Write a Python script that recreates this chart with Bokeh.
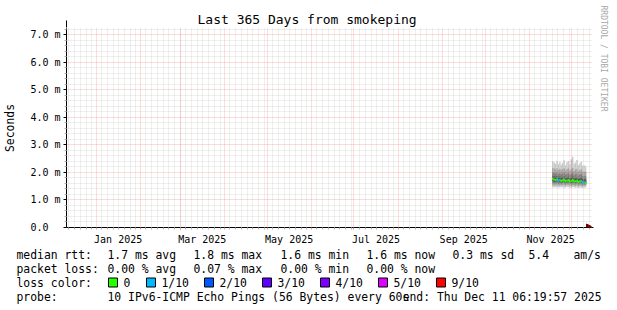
import pandas as pd
from bokeh.plotting import figure
from bokeh.layouts import column
from bokeh.models import FixedTicker, Arrow, NormalHead, ColumnDataSource, Range1d, Title
from bokeh.core.properties import value
from bokeh.embed import file_html
from bokeh.resources import INLINE

# ---------------- data ----------------
title_text = "Last 365 Days from smokeping"
end_time = "2025-12-11 06:19:57"
span_days = 365
first_day = "2025-11-17"

median_ms = [1.76, 1.74, 1.72, 1.75, 1.70, 1.73, 1.69, 1.71, 1.74, 1.68, 1.70, 1.72,
             1.67, 1.69, 1.73, 1.66, 1.68, 1.70, 1.65, 1.67, 1.69, 1.63, 1.64, 1.62]
loss_of_10 = [0, 0, 0, 0, 1, 1, 0, 0, 0, 0, 0, 0,
              0, 0, 0, 0, 0, 0, 0, 0, 0, 1, 1, 0]
ping1 = [1.46, 1.45, 1.47, 1.44, 1.46, 1.45, 1.47, 1.46, 1.44, 1.45, 1.47, 1.46,
         1.45, 1.44, 1.46, 1.45, 1.44, 1.46, 1.43, 1.45, 1.44, 1.43, 1.44, 1.45]
ping2 = [1.53, 1.52, 1.54, 1.52, 1.53, 1.51, 1.54, 1.53, 1.52, 1.52, 1.53, 1.54,
         1.52, 1.51, 1.53, 1.52, 1.51, 1.53, 1.50, 1.52, 1.51, 1.50, 1.51, 1.52]
ping3 = [1.60, 1.59, 1.60, 1.59, 1.58, 1.59, 1.58, 1.60, 1.59, 1.57, 1.59, 1.60,
         1.57, 1.58, 1.60, 1.57, 1.57, 1.59, 1.56, 1.57, 1.58, 1.55, 1.56, 1.56]
ping4 = [1.68, 1.66, 1.66, 1.67, 1.64, 1.66, 1.63, 1.65, 1.67, 1.62, 1.64, 1.66,
         1.62, 1.63, 1.66, 1.61, 1.62, 1.64, 1.60, 1.62, 1.63, 1.59, 1.60, 1.59]
ping5 = [1.74, 1.72, 1.70, 1.73, 1.68, 1.71, 1.67, 1.69, 1.72, 1.66, 1.68, 1.70,
         1.65, 1.67, 1.71, 1.64, 1.66, 1.68, 1.63, 1.65, 1.67, 1.62, 1.63, 1.61]
ping6 = [1.79, 1.77, 1.75, 1.78, 1.73, 1.76, 1.72, 1.74, 1.77, 1.71, 1.73, 1.75,
         1.70, 1.72, 1.76, 1.69, 1.71, 1.73, 1.68, 1.70, 1.72, 1.66, 1.67, 1.65]
ping7 = [1.88, 1.86, 1.84, 1.87, 1.82, 1.85, 1.81, 1.83, 1.86, 1.80, 1.82, 1.84,
         1.79, 1.81, 1.85, 1.78, 1.80, 1.82, 1.77, 1.79, 1.81, 1.75, 1.76, 1.74]
ping8 = [2.00, 1.98, 1.95, 1.99, 1.94, 1.97, 1.93, 1.96, 1.99, 1.92, 1.95, 1.97,
         1.91, 1.94, 1.98, 1.90, 1.93, 1.96, 1.89, 1.92, 1.94, 1.87, 1.88, 1.86]
ping9 = [2.16, 2.14, 2.10, 2.15, 2.09, 2.13, 2.08, 2.12, 2.15, 2.07, 2.12, 2.14,
         2.06, 2.11, 2.16, 2.05, 2.10, 2.13, 2.04, 2.08, 2.11, 2.02, 2.03, 2.01]
ping10 = [2.40, 2.36, 2.32, 2.42, 2.30, 2.38, 2.28, 2.35, 2.44, 2.26, 2.37, 2.41,
          2.29, 2.48, 2.58, 2.31, 2.36, 2.45, 2.27, 2.33, 2.39, 2.24, 2.26, 2.22]

ytick_values = [0, 1, 2, 3, 4, 5, 6, 7]
ytick_labels = ["0.0\u00a0\u00a0", "1.0 m", "2.0 m", "3.0 m", "4.0 m", "5.0 m", "6.0 m", "7.0 m"]
xtick_months = ["2025-01", "2025-03", "2025-05", "2025-07", "2025-09", "2025-11"]
xtick_labels = ["Jan 2025", "Mar 2025", "May 2025", "Jul 2025", "Sep 2025", "Nov 2025"]

loss_thresholds = [0, 1, 2, 3, 4, 5, 9]
loss_labels = ["0", "1/10", "2/10", "3/10", "4/10", "5/10", "9/10"]
loss_colors = ["#26ff00", "#00b8ff", "#0059ff", "#5e00ff", "#7e00ff", "#dd00ff", "#ff0000"]

rtt_head = "median rtt:"
rtt_stats = ["1.7 ms avg", "1.8 ms max", "1.6 ms min", "1.6 ms now", "0.3 ms sd", "5.4", "am/s"]
loss_head = "packet loss:"
loss_stats = ["0.00 % avg", "0.07 % max", "0.00 % min", "0.00 % now"]
color_head = "loss color:"
probe_head = "probe:"
probe_text = "10 IPv6-ICMP Echo Pings (56 Bytes) every 60s"
end_text = "end: Thu Dec 11 06:19:57 2025"
watermark = "RRDTOOL / TOBI OETIKER"

# ---------------- layout constants ----------------
W = 617
H_MAIN, H_LEG = 247, 63
FL, FR, FT, FB = 66, 591, 28, 228
MONO = "DejaVu Sans Mono"
DAY = 86400000.0


def ms(t):
    return pd.Timestamp(t).value / 1e6


def no_align(fig):
    try:
        fig.frame_align = False
    except Exception:
        pass


t_end = ms(end_time)
t_start = t_end - span_days * DAY
px_per_day = 1.425
x_right = t_end + (FR - FL - span_days * px_per_day) / px_per_day * DAY

p = figure(width=W, height=H_MAIN, x_axis_type="datetime",
           x_range=Range1d(t_start, x_right), y_range=Range1d(0, 7.22),
           output_backend="svg", toolbar_location=None,
           min_border_left=FL, min_border_right=W - FR,
           min_border_top=FT, min_border_bottom=H_MAIN - FB,
           background_fill_color="white", border_fill_color="white",
           outline_line_color=None)
no_align(p)

# title (left-aligned with an offset so it is centred on the whole image)
p.title = Title(text=title_text, align="left", offset=131, standoff=3,
                text_font=MONO, text_font_size="13px", text_font_style="normal",
                text_color="black")

# ---------- smoke ----------
days = pd.date_range(first_day, periods=len(median_ms), freq="D")
left = [ms(d) for d in days]
right = [v + DAY for v in left]
pings = [ping1, ping2, ping3, ping4, ping5, ping6, ping7, ping8, ping9, ping10]
half = len(pings) // 2
for k in range(half):
    lvl = int(190 / half * (half - (k + 1))) + 50
    col = "#%02x%02x%02x" % (lvl, lvl, lvl)
    src = ColumnDataSource(dict(left=left, right=right, bottom=pings[k], top=pings[-1 - k]))
    p.quad(left="left", right="right", bottom="bottom", top="top", source=src,
           fill_color=col, line_color=None)

# ---------- median line coloured by loss ----------
def loss_color(n):
    c = loss_colors[0]
    for th, cc in zip(loss_thresholds, loss_colors):
        if n >= th:
            c = cc
    return c

cols = [loss_color(n) for n in loss_of_10]
hsrc = ColumnDataSource(dict(x0=left, x1=right, y=median_ms, c=cols))
p.segment(x0="x0", y0="y", x1="x1", y1="y", color="c", line_width=2, source=hsrc)
vsrc = ColumnDataSource(dict(x=left[1:], y0=median_ms[:-1], y1=median_ms[1:], c=cols[1:]))
p.segment(x0="x", y0="y0", x1="x", y1="y1", color="c", line_width=2, source=vsrc)

# ---------- grids ----------
month_starts = pd.date_range("2024-12-01", "2026-01-01", freq="MS")
major_x = [ms(m) for m in month_starts if t_start <= ms(m) <= x_right]
minor_x = []
for m in month_starts:
    for d in (4, 8, 12, 16, 20, 24, 28):
        v = ms(m + pd.Timedelta(days=d))
        if t_start <= v <= x_right:
            minor_x.append(v)

label_x = []
for mstr in xtick_months:
    a = pd.Timestamp(mstr + "-01")
    b = a + pd.offsets.MonthBegin(1)
    label_x.append((ms(a) + ms(b)) / 2)

minor_y = [round(i * 0.2, 1) for i in range(0, 37) if (i % 5) != 0]

p.xgrid.ticker = FixedTicker(ticks=major_x, minor_ticks=minor_x)
p.ygrid.ticker = FixedTicker(ticks=ytick_values, minor_ticks=minor_y)
for g in (p.xgrid, p.ygrid):
    g.grid_line_color = "#ff0000"
    g.grid_line_alpha = 0.28
    g.grid_line_dash = "1 1"
    g.minor_grid_line_color = "#b8b8b8"
    g.minor_grid_line_alpha = 0.45
    g.minor_grid_line_dash = "1 1"
    g.level = "annotation"

# ---------- axes ----------
xa = p.xaxis[0]
xa.ticker = FixedTicker(ticks=label_x, minor_ticks=major_x + minor_x)
xa.major_label_overrides = {v: t for v, t in zip(label_x, xtick_labels)}
xa.major_tick_line_color = None
xa.major_tick_out = 0
xa.major_tick_in = 0
xa.minor_tick_line_color = "#b0b0b0"
xa.minor_tick_out = 2
xa.minor_tick_in = 0
xa.axis_line_color = "black"
xa.major_label_text_font = MONO
xa.major_label_text_font_size = "10px"
xa.major_label_text_color = "black"
xa.major_label_standoff = 4

ya = p.yaxis[0]
ya.ticker = FixedTicker(ticks=ytick_values, minor_ticks=minor_y)
ya.major_label_overrides = {v: t for v, t in zip(ytick_values, ytick_labels)}
ya.major_tick_out = 3
ya.major_tick_in = 0
ya.major_tick_line_color = "black"
ya.minor_tick_out = 2
ya.minor_tick_in = 0
ya.minor_tick_line_color = "#b0b0b0"
ya.axis_line_color = "black"
ya.major_label_text_font = MONO
ya.major_label_text_font_size = "10px"
ya.major_label_text_color = "black"
ya.major_label_standoff = 3
ya.axis_label = "Seconds"
ya.axis_label_text_font = MONO
ya.axis_label_text_font_size = "11.4px"
ya.axis_label_text_font_style = "normal"
ya.axis_label_text_color = "black"
ya.axis_label_standoff = 10

# watermark on the right
p.add_layout(Title(text=watermark, align="left", offset=-23, standoff=15,
                   text_font=MONO, text_font_size="8px", text_font_style="normal",
                   text_color="#a8a8a8"), "right")

# arrow heads (frame-relative screen units)
head_col = "#7f0000"
p.add_layout(Arrow(x_start=FR - FL - 7, y_start=0, x_end=FR - FL + 2, y_end=0,
                   start_units="screen", end_units="screen", line_color="black",
                   end=NormalHead(size=7, fill_color=head_col, line_color=head_col)))
p.add_layout(Arrow(x_start=0, y_start=FB - FT - 2, x_end=0, y_end=FB - FT + 7,
                   start_units="screen", end_units="screen", line_color="black",
                   end=NormalHead(size=7, fill_color=head_col, line_color=head_col)))

# ---------------- legend strip (pixel coordinates, y down) ----------------
q = figure(width=W, height=H_LEG, x_range=Range1d(0, W), y_range=Range1d(H_LEG, 0),
           output_backend="svg", toolbar_location=None, min_border=0,
           x_axis_location=None, y_axis_location=None,
           background_fill_color="white", border_fill_color="white",
           outline_line_color=None)
no_align(q)
q.grid.visible = False

row_y = [254 - H_MAIN, 268 - H_MAIN, 282 - H_MAIN, 296 - H_MAIN]
tx, ty, tt = [], [], []

def put(t, X, Y):
    tx.append(X); ty.append(Y); tt.append(t)

put(rtt_head, 16, row_y[0])
for t, X in zip(rtt_stats, [107, 193, 280, 366, 452, 528, 573]):
    put(t, X, row_y[0])
put(loss_head, 16, row_y[1])
for t, X in zip(loss_stats, [107, 193, 280, 366]):
    put(t, X, row_y[1])
put(color_head, 16, row_y[2])
box_x = [108, 146, 204, 262, 320, 378, 436]
for t, X in zip(loss_labels, box_x):
    put(t, X + 15, row_y[2])
put(probe_head, 16, row_y[3])
put(probe_text, 107, row_y[3])

q.text(x=tx, y=ty, text=tt, text_font=value(MONO), text_font_size=value("11.4px"),
       text_baseline="middle", text_align="left", text_color="black")
q.text(x=[601], y=[row_y[3]], text=[end_text], text_font=value(MONO),
       text_font_size=value("11.4px"), text_baseline="middle", text_align="right",
       text_color="black")

bsrc = ColumnDataSource(dict(l=box_x, r=[b + 9 for b in box_x],
                             t=[row_y[2] - 4.5] * len(box_x), b=[row_y[2] + 4.5] * len(box_x),
                             c=loss_colors))
q.quad(left="l", right="r", top="t", bottom="b", fill_color="c", line_color="black",
       line_width=1, source=bsrc)

layout = column(p, q, spacing=0)
open("out.html", "w").write(file_html(layout, INLINE))
